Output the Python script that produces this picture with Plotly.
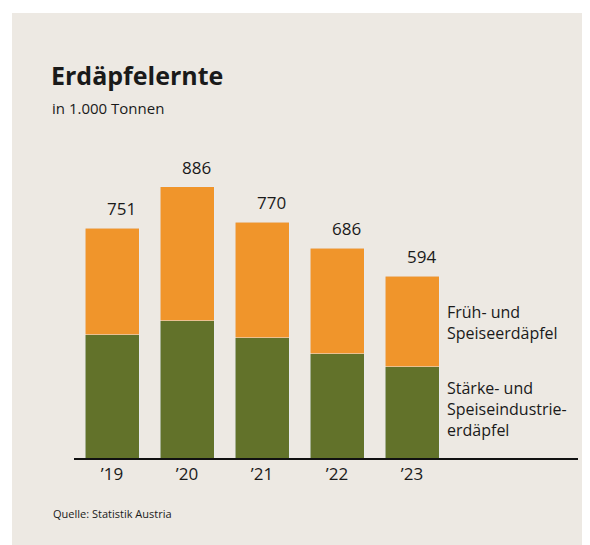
import plotly.graph_objects as go

years = ["’19", "’20", "’21", "’22", "’23"]
totals = [751, 886, 770, 686, 594]
staerke = [403, 449, 393, 341, 298]
frueh = [t - s for t, s in zip(totals, staerke)]

# figure sits at (8, 8) in the page; helpers take page pixels
FW, FH = 600, 560
BG = "#EDE9E3"
ORANGE = "#F0952B"
GREEN = "#62722A"
FONT = "Open Sans"
TXT = "#1a1a1a"


def px(x):
    return (x - 8) / FW


def py(y):
    return 1 - (y - 8) / FH


xs = list(range(len(years)))

fig = go.Figure()
fig.add_trace(go.Bar(x=xs, y=staerke, marker_color=GREEN, width=0.72,
                     name="Stärke- und Speiseindustrieerdäpfel"))
fig.add_trace(go.Bar(x=xs, y=frueh, marker_color=ORANGE, width=0.72,
                     name="Früh- und Speiseerdäpfel"))

annotations = []
for i, t in enumerate(totals):
    annotations.append(dict(
        x=i + 0.36, y=t, xref="x", yref="y", text=str(t),
        xanchor="right", yanchor="bottom", xshift=-1, yshift=6,
        showarrow=False, font=dict(size=17, color=TXT, family=FONT)))


def note(x, y, text, size, yanchor="middle"):
    return dict(x=px(x), y=py(y), xref="paper", yref="paper", text=text,
                align="left", xanchor="left", yanchor=yanchor, showarrow=False,
                font=dict(size=size, color=TXT, family=FONT))


annotations += [
    note(49, 75, "<b>Erdäpfelernte</b>", 25),
    note(50, 108, "in 1.000 Tonnen", 15),
    note(445, 322, "Früh- und<br>Speiseerdäpfel", 16),
    note(445, 409, "Stärke- und<br>Speiseindustrie-<br>erdäpfel", 16),
    note(51, 513, "Quelle: Statistik Austria", 11),
]

# white page strip above and left of the card
white = dict(type="rect", xref="paper", yref="paper", layer="below",
             fillcolor="white", line_width=0)

fig.update_layout(
    width=FW, height=FH, barmode="stack", showlegend=False,
    paper_bgcolor=BG, plot_bgcolor=BG,
    margin=dict(l=0, r=0, t=0, b=0),
    font=dict(family=FONT, color=TXT),
    annotations=annotations,
    shapes=[dict(white, x0=0, x1=1, y0=py(13), y1=1),
            dict(white, x0=0, x1=px(12), y0=0, y1=1)],
    xaxis=dict(domain=[px(74), px(578)], range=[-0.507, 6.213],
               tickvals=xs, ticktext=years, showgrid=False, zeroline=False,
               showline=True, linecolor="#111", linewidth=2, ticks="",
               tickfont=dict(size=17, color=TXT, family=FONT), fixedrange=True),
    yaxis=dict(domain=[py(458), py(152)], range=[0, 1000], visible=False,
               showgrid=False, zeroline=False, fixedrange=True),
)

fig.write_html("out.html", config={"displayModeBar": False},
               post_script="document.documentElement.style.overflow='hidden';"
                           "document.body.style.overflow='hidden';")
